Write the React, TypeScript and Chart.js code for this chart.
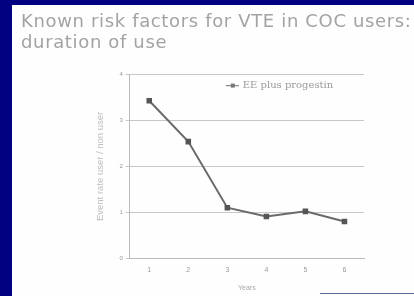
import React, { useEffect, useRef } from "react";
import { Chart, registerables } from "chart.js";

Chart.register(...registerables);

const categories = ["1", "2", "3", "4", "5", "6"];
const eeProgestin = [3.43, 2.54, 1.1, 0.91, 1.02, 0.8];
const yTicks = [0, 1, 2, 3, 4];
const titleLines = ["Known risk factors for VTE in COC users:", "duration of use"];
const seriesLabel = "EE plus progestin";

const insideLegend = {
  id: "insideLegend",
  afterDraw(chart: any) {
    const { ctx, chartArea } = chart;
    const x = chartArea.left + (chartArea.right - chartArea.left) * 0.41;
    const y = chartArea.top + 11;
    ctx.save();
    ctx.strokeStyle = "#888";
    ctx.lineWidth = 1.2;
    ctx.beginPath();
    ctx.moveTo(x, y);
    ctx.lineTo(x + 13, y);
    ctx.stroke();
    ctx.fillStyle = "#777";
    ctx.fillRect(x + 5, y - 2, 4, 4);
    ctx.fillStyle = "#9a9a9a";
    ctx.font = "10px 'DejaVu Serif', serif";
    ctx.textBaseline = "middle";
    ctx.fillText(seriesLabel, x + 17, y);
    ctx.restore();
  },
};

export default function App() {
  const ref = useRef<HTMLCanvasElement>(null);
  useEffect(() => {
    const chart = new Chart(ref.current!, {
      type: "line",
      data: {
        labels: categories,
        datasets: [
          {
            label: seriesLabel,
            data: eeProgestin,
            borderColor: "#6a6a6a",
            borderWidth: 2,
            pointStyle: "rect",
            pointRadius: 2.5,
            pointBackgroundColor: "#555",
            pointBorderColor: "#555",
            tension: 0,
          },
        ],
      },
      options: {
        animation: false,
        responsive: false,
        layout: { padding: { left: 6, right: 25, top: 6, bottom: 0 } },
        plugins: {
          legend: { display: false },
          tooltip: { enabled: false },
        },
        scales: {
          x: {
            offset: true,
            grid: { display: false, drawTicks: true },
            border: { color: "#bbb" },
            ticks: { color: "#999", font: { size: 7 }, padding: 0 },
            title: { display: true, text: "Years", color: "#aaa", font: { size: 7 }, padding: { top: 9 } },
          },
          y: {
            min: 0,
            max: 4,
            afterBuildTicks: (axis: any) => {
              axis.ticks = yTicks.map((v) => ({ value: v }));
            },
            grid: { color: "#c8c8c8", tickLength: 4 },
            border: { color: "#bbb" },
            ticks: { color: "#999", font: { size: 6 }, padding: 3 },
            title: {
              display: true,
              text: "Event rate user / non user",
              color: "#bcbcbc",
              font: { size: 9.5 },
              padding: { top: 0, bottom: 10 },
            },
          },
        },
      },
      plugins: [insideLegend],
    });
    return () => chart.destroy();
  }, []);

  return (
    <div style={{ position: "fixed", left: 0, top: 0, width: 414, height: 296, background: "#000080", overflow: "hidden" }}>
      <div style={{ position: "absolute", left: 12, top: 5, right: 0, bottom: 0, background: "#fefefe" }}>
        <div
          style={{
            position: "absolute",
            left: 9,
            top: 5,
            fontFamily: "'DejaVu Sans', Verdana, sans-serif",
            fontSize: 18,
            lineHeight: "21px",
            letterSpacing: "0.65px",
            color: "#a3a3a3",
            whiteSpace: "nowrap",
            filter: "blur(0.4px)",
          }}
        >
          {titleLines.map((l) => (
            <div key={l}>{l}</div>
          ))}
        </div>
        <canvas
          ref={ref}
          width={300}
          height={228}
          style={{ position: "absolute", left: 77, top: 63, width: 300, height: 228 }}
        />
      </div>
      <div style={{ position: "absolute", left: 320, top: 293, width: 94, height: 3, background: "#fff", borderTop: "1px solid #5a6a9a" }} />
    </div>
  );
}
